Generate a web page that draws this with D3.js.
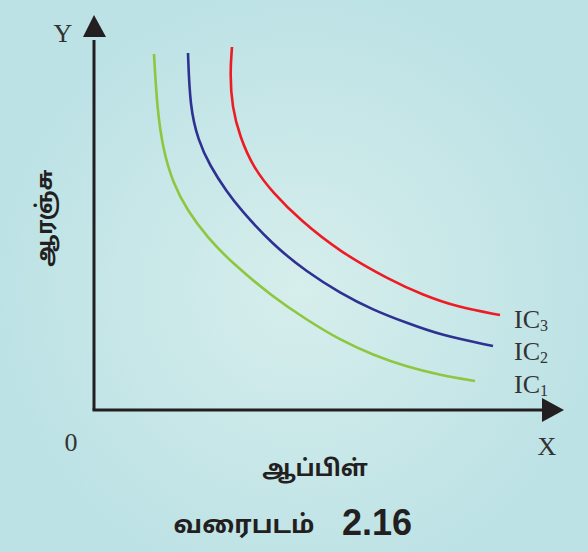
<!DOCTYPE html>
<html><head><meta charset="utf-8">
<script src="https://cdn.jsdelivr.net/npm/d3@7"></script>
<style>html,body{margin:0;padding:0;background:#bee3e6;}svg{display:block;}</style>
</head><body>
<script>
// Indifference curves: values (x = apples, y = oranges, arbitrary units)
const curveNames = ["IC1", "IC2", "IC3"];
const curveColors = ["#8dc63f", "#2e3192", "#ed1c24"];
const ic1X = [60, 63, 69, 79, 93, 113, 138, 179, 213, 246, 279, 313, 346, 381];
const ic1Y = [356, 303, 260, 227, 200, 173, 147, 113, 90, 70, 55, 43, 35, 29];
const ic2X = [94, 96, 104, 116, 133, 146, 179, 213, 246, 279, 313, 346, 399];
const ic2Y = [357, 303, 270, 244, 218, 201, 165, 138, 117, 100, 87, 75, 64];
const ic3X = [138, 136, 138, 146, 159, 179, 206, 246, 296, 329, 363, 406];
const ic3Y = [363, 337, 303, 273, 243, 217, 190, 158, 130, 115, 103, 95];
const labelY = [30, 63, 95];
const axisXLabel = "ஆப்பிள்";
const axisYLabel = "ஆரஞ்சு";
const titleWord = "வரைபடம்";
const titleNum = "2.16";

const W = 588, H = 552;
const svg = d3.select("body").append("svg").attr("width", W).attr("height", H);
const defs = svg.append("defs");
const grad = defs.append("radialGradient").attr("id", "bg")
  .attr("gradientUnits", "userSpaceOnUse").attr("cx", 300).attr("cy", 290).attr("r", 300);
grad.append("stop").attr("offset", "0").attr("stop-color", "#d6eeec");
grad.append("stop").attr("offset", "1").attr("stop-color", "#bde2e5");
svg.append("rect").attr("width", W).attr("height", H).attr("fill", "url(#bg)");

const x = d3.scaleLinear().domain([0, 470]).range([94, 564]);
const y = d3.scaleLinear().domain([0, 395]).range([410, 15]);

const series = [
  ic1X.map((v, i) => [v, ic1Y[i]]),
  ic2X.map((v, i) => [v, ic2Y[i]]),
  ic3X.map((v, i) => [v, ic3Y[i]])
];
const line = d3.line().x(d => x(d[0])).y(d => y(d[1])).curve(d3.curveBasis);
series.forEach((s, i) => {
  svg.append("path").attr("d", line(s)).attr("fill", "none")
    .attr("stroke", curveColors[i]).attr("stroke-width", 2.6);
});

// axes
const axCol = "#231f20";
svg.append("line").attr("x1", x(0)).attr("y1", y(0)).attr("x2", x(0)).attr("y2", y(370))
  .attr("stroke", axCol).attr("stroke-width", 3);
svg.append("line").attr("x1", x(0) - 1.5).attr("y1", y(0)).attr("x2", x(450)).attr("y2", y(0))
  .attr("stroke", axCol).attr("stroke-width", 3);
svg.append("path").attr("fill", axCol)
  .attr("d", `M${x(0)},${y(395)} L${x(0) + 12},${y(373)} L${x(0) - 11},${y(373)} Z`);
svg.append("path").attr("fill", axCol)
  .attr("d", `M${x(470)},${y(0)} L${x(448)},${y(0) - 12} L${x(448)},${y(0) + 12} Z`);

const serif = "'Liberation Serif','DejaVu Serif',serif";
svg.append("text").attr("x", 63).attr("y", 42).attr("text-anchor", "middle")
  .attr("font-family", serif).attr("font-size", 26).attr("fill", "#333").text("Y");
svg.append("text").attr("x", 547).attr("y", 455).attr("text-anchor", "middle")
  .attr("font-family", serif).attr("font-size", 26).attr("fill", "#333").text("X");
svg.append("text").attr("x", 71).attr("y", 451).attr("text-anchor", "middle")
  .attr("font-family", serif).attr("font-size", 26).attr("fill", "#333").text("0");

curveNames.forEach((n, i) => {
  const t = svg.append("text").attr("x", 514).attr("y", y(labelY[i]) + 13)
    .attr("font-family", serif).attr("font-size", 26).attr("fill", "#333");
  t.append("tspan").text(n.slice(0, 2));
  t.append("tspan").attr("font-size", 16).attr("dy", 3).text(n.slice(2));
});

const sans = "'Noto Sans Tamil','Lohit Tamil','Noto Sans','DejaVu Sans',sans-serif";
svg.append("text").attr("x", 315).attr("y", 476).attr("text-anchor", "middle")
  .attr("font-family", sans).attr("font-size", 23).attr("font-weight", "bold").attr("fill", "#231f20")
  .text(axisXLabel);
svg.append("text").attr("transform", "translate(52,218) rotate(-90)").attr("text-anchor", "middle")
  .attr("font-family", sans).attr("font-size", 22).attr("font-weight", "bold").attr("fill", "#231f20")
  .text(axisYLabel);
svg.append("text").attr("x", 244).attr("y", 533).attr("text-anchor", "middle")
  .attr("font-family", sans).attr("font-size", 25).attr("font-weight", "bold").attr("fill", "#231f20")
  .text(titleWord);
svg.append("text").attr("x", 377).attr("y", 535).attr("text-anchor", "middle")
  .attr("font-family", "'Liberation Sans',Arial,sans-serif").attr("font-size", 36).attr("font-weight", "bold").attr("fill", "#231f20")
  .text(titleNum);
</script>
</body></html>
